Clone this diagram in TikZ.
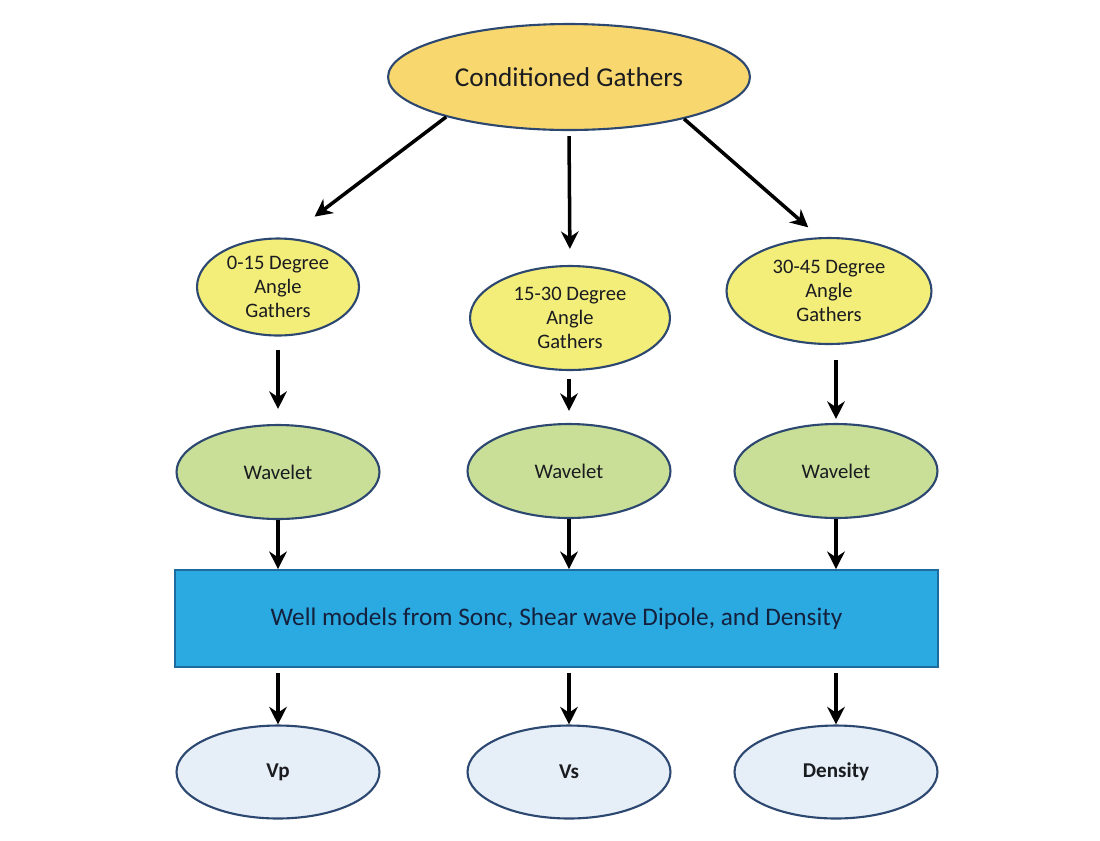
\documentclass[tikz,border=0pt]{standalone}
\usepackage{fontspec}
\setmainfont{Carlito}
\usetikzlibrary{shapes.geometric,arrows.meta}
\tikzset{>={Stealth[length=10pt,width=10pt]}}
\definecolor{gold}{HTML}{F9D76F}
\definecolor{lemon}{HTML}{F3ED7A}
\definecolor{sage}{HTML}{C9DF98}
\definecolor{sky}{HTML}{2BA9E1}
\definecolor{skyline}{HTML}{1E6BA0}
\definecolor{mist}{HTML}{E6EEF7}
\definecolor{navy}{HTML}{2C4770}
\definecolor{ink}{HTML}{1A1C20}
\definecolor{deepink}{HTML}{14213D}

\begin{document}
\begin{tikzpicture}[x=0.02cm,y=-0.02cm,
    oval/.style={ellipse, draw=navy, line width=1.2pt, inner sep=0pt, align=center, text=ink},
    angle/.style={oval, fill=lemon, font=\fontsize{11.7}{13.7}\selectfont},
    wave/.style={oval, fill=sage, minimum width=4.06cm, minimum height=1.88cm, font=\fontsize{11.8}{14}\selectfont},
    prop/.style={oval, fill=mist, minimum width=4.06cm, minimum height=1.86cm, font=\bfseries\fontsize{12}{14}\selectfont},
    arr/.style={->, line width=2pt}]
    \useasboundingbox (0,0) rectangle (1100,840);
    % top
    \node[oval, fill=gold, minimum width=7.24cm, minimum height=2.12cm,
          font=\fontsize{15.5}{18}\selectfont] (cg) at (569,77) {Conditioned Gathers};
    % angle gathers
    \node[angle, minimum width=3.24cm, minimum height=1.94cm] (ag1) at (278,287) {0-15 Degree\\Angle\\Gathers};
    \node[angle, minimum width=4.0cm, minimum height=2.08cm] (ag2) at (570,318) {15-30 Degree\\Angle\\Gathers};
    \node[angle, minimum width=4.1cm, minimum height=2.12cm] (ag3) at (829,291) {30-45 Degree\\Angle\\Gathers};
    % wavelets
    \node[wave] (wv1) at (278,472) {Wavelet};
    \node[wave] (wv2) at (569,471) {Wavelet};
    \node[wave] (wv3) at (836,471) {Wavelet};
    % well models
    \node[draw=skyline, fill=sky, line width=1pt, minimum width=15.26cm, minimum height=1.94cm,
          text=deepink, font=\fontsize{14.4}{17}\selectfont] (wm) at (556.5,618.5)
          {Well models from Sonc, Shear wave Dipole, and Density};
    % outputs
    \node[prop] (vp) at (278,772) {Vp};
    \node[prop] (vs) at (569,772) {Vs};
    \node[prop] (rho) at (836,772) {Density};

    \draw[arr, shorten >=0.7cm] (cg.198) -- (ag1.80);
    \draw[arr, shorten <=0.1cm, shorten >=0.32cm] (cg.south) -- (ag2.north);
    \draw[arr, shorten >=0.3cm] (cg.-20) -- (ag3.100);

    \draw[arr, shorten <=0.26cm, shorten >=0.3cm] (ag1.south) -- (wv1.north);
    \draw[arr, shorten <=0.16cm, shorten >=0.24cm] (ag2.south -| wv2) -- (wv2.north);
    \draw[arr, shorten <=0.3cm, shorten >=0.08cm] (ag3.south -| wv3) -- (wv3.north);

    \draw[arr] (wv1.south) -- (wv1.south |- wm.north);
    \draw[arr] (wv2.south) -- (wv2.south |- wm.north);
    \draw[arr] (wv3.south) -- (wv3.south |- wm.north);

    \draw[arr, shorten <=0.1cm] (wm.south -| vp) -- (vp.north);
    \draw[arr, shorten <=0.1cm] (wm.south -| vs) -- (vs.north);
    \draw[arr, shorten <=0.1cm] (wm.south -| rho) -- (rho.north);
\end{tikzpicture}
\end{document}
